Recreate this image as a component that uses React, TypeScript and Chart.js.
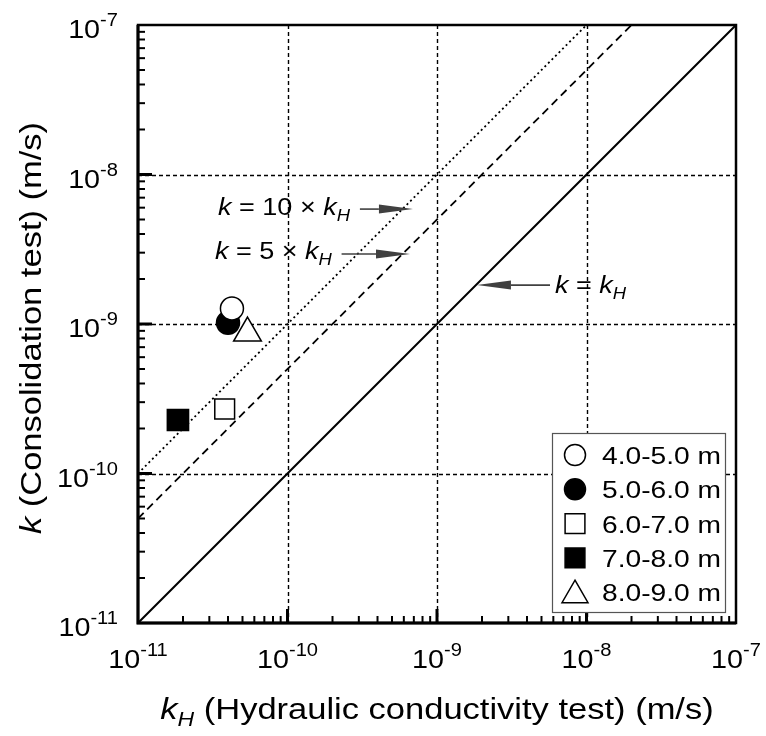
import React, { useEffect, useRef } from 'react';
import { Chart, registerables } from 'chart.js';
Chart.register(...registerables);

// ---------- data ----------
const seriesLabels = ['4.0-5.0 m', '5.0-6.0 m', '6.0-7.0 m', '7.0-8.0 m', '8.0-9.0 m'];
const kHValues = [4.25e-11, 4.0e-11, 3.8e-11, 1.85e-11, 5.4e-11];
const kValues = [1.27e-9, 1.02e-9, 2.7e-10, 2.28e-10, 8.7e-10];
const markerStyles = ['circle', 'circle', 'rect', 'rect', 'triangle'];
const markerFilled = [false, true, false, true, false];
const markerRadius = [11.5, 11.5, 14, 15, 16];

const decadeValues = [1e-11, 1e-10, 1e-9, 1e-8, 1e-7];
const decadeExponents = ['-11', '-10', '-9', '-8', '-7'];
const axisMin = 1e-11;
const axisMax = 1e-7;

const ratioValues = [1, 5, 10];
const ratioDash = [[], [8, 5], [2, 3]];
const ratioWidth = [2, 1.8, 1.8];

// annotations (anchors in data units)
const annotTipX = [6.9e-10, 6.6e-10, 1.85e-9];
const annotTipY = [5.87e-9, 2.94e-9, 1.82e-9];
const annotTailX = [3.05e-10, 2.3e-10, 5.7e-9];
const annotTextX = [3.43e-11, 3.27e-11, 6.15e-9];
const annotTextY = [5.36e-9, 2.72e-9, 1.61e-9];
const annotRatio = ['10', '5', ''];

const S = 1.15; // horizontal text stretch
const FONT = '"Liberation Sans", Arial, sans-serif';

type Part = { t: string; size: number; italic?: boolean; dy?: number };

function partsWidth(ctx: CanvasRenderingContext2D, parts: Part[]) {
  let w = 0;
  for (const p of parts) {
    ctx.font = `${p.italic ? 'italic ' : ''}${p.size}px ${FONT}`;
    w += ctx.measureText(p.t).width * S;
  }
  return w;
}

function drawParts(ctx: CanvasRenderingContext2D, parts: Part[], x: number, y: number, align: 'left' | 'center' | 'right') {
  const w = partsWidth(ctx, parts);
  let cx = align === 'center' ? x - w / 2 : align === 'right' ? x - w : x;
  ctx.fillStyle = '#000';
  ctx.textAlign = 'left';
  ctx.textBaseline = 'alphabetic';
  for (const p of parts) {
    ctx.font = `${p.italic ? 'italic ' : ''}${p.size}px ${FONT}`;
    const pw = ctx.measureText(p.t).width * S;
    ctx.save();
    ctx.translate(cx, y + (p.dy || 0));
    ctx.scale(S, 1);
    ctx.fillText(p.t, 0, 0);
    ctx.restore();
    cx += pw;
  }
  return w;
}

function drawMarker(ctx: CanvasRenderingContext2D, style: string, filled: boolean, r: number, x: number, y: number) {
  ctx.save();
  ctx.beginPath();
  if (style === 'circle') {
    ctx.arc(x, y, r, 0, Math.PI * 2);
  } else if (style === 'rect') {
    const s = r * Math.SQRT1_2;
    ctx.rect(x - s, y - s, 2 * s, 2 * s);
  } else {
    ctx.moveTo(x, y - r);
    ctx.lineTo(x + r * Math.sin((2 * Math.PI) / 3), y - r * Math.cos((2 * Math.PI) / 3));
    ctx.lineTo(x - r * Math.sin((2 * Math.PI) / 3), y - r * Math.cos((2 * Math.PI) / 3));
    ctx.closePath();
  }
  ctx.fillStyle = filled ? '#000' : '#fff';
  ctx.fill();
  ctx.lineWidth = 1.5;
  ctx.strokeStyle = '#000';
  ctx.stroke();
  ctx.restore();
}

function minorValues() {
  const out: number[] = [];
  for (let d = 0; d < decadeValues.length - 1; d++) {
    for (let m = 2; m <= 9; m++) out.push(decadeValues[d] * m);
  }
  return out;
}

const decorPlugin = {
  id: 'decor',
  beforeDraw(chart: any) {
    const ctx = chart.ctx as CanvasRenderingContext2D;
    ctx.save();
    ctx.fillStyle = '#fff';
    ctx.fillRect(0, 0, chart.width, chart.height);
    ctx.restore();
  },
  beforeDatasetsDraw(chart: any) {
    const ctx = chart.ctx as CanvasRenderingContext2D;
    const { left, right, top, bottom } = chart.chartArea;
    const xs = chart.scales.x;
    const ys = chart.scales.y;
    ctx.save();
    ctx.strokeStyle = '#000';
    ctx.lineWidth = 1.4;
    ctx.setLineDash([4, 3]);
    for (let i = 1; i < decadeValues.length - 1; i++) {
      const px = Math.round(xs.getPixelForValue(decadeValues[i])) + 0.5;
      ctx.beginPath();
      ctx.moveTo(px, top);
      ctx.lineTo(px, bottom);
      ctx.stroke();
      const py = Math.round(ys.getPixelForValue(decadeValues[i])) + 0.5;
      ctx.beginPath();
      ctx.moveTo(left, py);
      ctx.lineTo(right, py);
      ctx.stroke();
    }
    ctx.restore();
  },
  afterDraw(chart: any) {
    const ctx = chart.ctx as CanvasRenderingContext2D;
    const { left, right, top, bottom } = chart.chartArea;
    const xs = chart.scales.x;
    const ys = chart.scales.y;

    // frame
    ctx.save();
    ctx.strokeStyle = '#000';
    ctx.lineWidth = 2.5;
    ctx.strokeRect(left, top, right - left, bottom - top);
    ctx.lineWidth = 3;
    ctx.beginPath();
    ctx.moveTo(left, top);
    ctx.lineTo(left, bottom);
    ctx.lineTo(right, bottom);
    ctx.stroke();

    // ticks
    ctx.lineWidth = 3;
    for (let i = 1; i < decadeValues.length - 1; i++) {
      const px = xs.getPixelForValue(decadeValues[i]);
      ctx.beginPath();
      ctx.moveTo(px, bottom);
      ctx.lineTo(px, bottom - 14);
      ctx.stroke();
      const py = ys.getPixelForValue(decadeValues[i]);
      ctx.beginPath();
      ctx.moveTo(left, py);
      ctx.lineTo(left + 14, py);
      ctx.stroke();
    }
    ctx.lineWidth = 2;
    for (const v of minorValues()) {
      const px = xs.getPixelForValue(v);
      ctx.beginPath();
      ctx.moveTo(px, bottom);
      ctx.lineTo(px, bottom - 7);
      ctx.stroke();
      const py = ys.getPixelForValue(v);
      ctx.beginPath();
      ctx.moveTo(left, py);
      ctx.lineTo(left + 7, py);
      ctx.stroke();
    }
    ctx.restore();

    // tick labels
    for (let i = 0; i < decadeValues.length; i++) {
      const parts: Part[] = [
        { t: '10', size: 25 },
        { t: decadeExponents[i], size: 17.5, dy: -12 },
      ];
      const px = xs.getPixelForValue(decadeValues[i]);
      drawParts(ctx, parts, px, bottom + 45, 'center');
      const py = ys.getPixelForValue(decadeValues[i]);
      drawParts(ctx, parts, left - 20, py + 13, 'right');
    }

    // axis titles
    const xTitle: Part[] = [
      { t: 'k', size: 30, italic: true },
      { t: 'H', size: 20, italic: true, dy: 7 },
      { t: ' (Hydraulic conductivity test) (m/s)', size: 30 },
    ];
    drawParts(ctx, xTitle, (left + right) / 2, 719, 'center');
    const yTitle: Part[] = [
      { t: 'k', size: 30, italic: true },
      { t: ' (Consolidation test) (m/s)', size: 30 },
    ];
    ctx.save();
    ctx.translate(31, (top + bottom) / 2 + 4);
    ctx.rotate(-Math.PI / 2);
    drawParts(ctx, yTitle, 0, 10, 'center');
    ctx.restore();

    // annotations
    for (let i = 0; i < annotTipX.length; i++) {
      const tx = xs.getPixelForValue(annotTipX[i]);
      const ty = ys.getPixelForValue(annotTipY[i]);
      const sx = xs.getPixelForValue(annotTailX[i]);
      const dir = tx > sx ? 1 : -1;
      const headLen = 34;
      ctx.save();
      ctx.strokeStyle = '#404040';
      ctx.fillStyle = '#404040';
      ctx.lineWidth = 1.6;
      ctx.beginPath();
      ctx.moveTo(sx, ty);
      ctx.lineTo(tx - dir * headLen, ty);
      ctx.stroke();
      ctx.beginPath();
      ctx.moveTo(tx, ty);
      ctx.lineTo(tx - dir * headLen, ty - 4.5);
      ctx.lineTo(tx - dir * headLen, ty + 4.5);
      ctx.closePath();
      ctx.fill();
      ctx.restore();

      const fs = 23.5;
      const parts: Part[] = annotRatio[i]
        ? [
            { t: 'k', size: fs, italic: true },
            { t: ` = ${annotRatio[i]} \u00d7 `, size: fs },
            { t: 'k', size: fs, italic: true },
            { t: 'H', size: 16, italic: true, dy: 6 },
          ]
        : [
            { t: 'k', size: fs, italic: true },
            { t: ' = ', size: fs },
            { t: 'k', size: fs, italic: true },
            { t: 'H', size: 16, italic: true, dy: 6 },
          ];
      drawParts(
        ctx,
        parts,
        xs.getPixelForValue(annotTextX[i]),
        ys.getPixelForValue(annotTextY[i]),
        'left'
      );
    }

    // legend
    const lx = 552, ly = 433, lw = 173, lh = 179;
    ctx.save();
    ctx.fillStyle = '#fff';
    ctx.fillRect(lx, ly, lw, lh);
    ctx.strokeStyle = '#555';
    ctx.lineWidth = 1.2;
    ctx.strokeRect(lx + 0.5, ly + 0.5, lw, lh);
    ctx.restore();
    for (let i = 0; i < seriesLabels.length; i++) {
      const cy = ly + 22 + i * 34.3;
      const r = markerStyles[i] === 'triangle' ? 15 : markerStyles[i] === 'rect' ? 14 : 10.5;
      drawMarker(ctx, markerStyles[i], markerFilled[i], r, lx + 23, cy + (markerStyles[i] === 'triangle' ? 3 : 0));
      drawParts(ctx, [{ t: seriesLabels[i], size: 24.5 }], lx + 50, cy + 9, 'left');
    }
  },
};

export default function App() {
  const ref = useRef<HTMLCanvasElement>(null);
  useEffect(() => {
    if (!ref.current) return;
    const datasets: any[] = [];
    for (let i = 0; i < seriesLabels.length; i++) {
      datasets.push({
        type: 'scatter',
        label: seriesLabels[i],
        data: [{ x: kHValues[i], y: kValues[i] }],
        pointStyle: markerStyles[i],
        pointRadius: markerRadius[i],
        pointHoverRadius: markerRadius[i],
        pointBackgroundColor: markerFilled[i] ? '#000' : '#fff',
        pointBorderColor: '#000',
        pointBorderWidth: 1.5,
        order: 0,
      });
    }
    for (let j = 0; j < ratioValues.length; j++) {
      const endX = Math.min(axisMax, axisMax / ratioValues[j]);
      datasets.push({
        type: 'scatter',
        label: `ratio ${ratioValues[j]}`,
        data: [
          { x: axisMin, y: axisMin * ratioValues[j] },
          { x: endX, y: endX * ratioValues[j] },
        ],
        showLine: true,
        pointRadius: 0,
        borderColor: '#000',
        borderWidth: ratioWidth[j],
        borderDash: ratioDash[j],
        order: 1,
      });
    }
    const chart = new Chart(ref.current, {
      type: 'scatter',
      data: { datasets },
      options: {
        animation: false,
        responsive: false,
        devicePixelRatio: 1,
        layout: { padding: { left: 138, top: 25, right: 30, bottom: 113 } },
        plugins: { legend: { display: false }, tooltip: { enabled: false } },
        scales: {
          x: { type: 'logarithmic', min: axisMin, max: axisMax, display: false },
          y: { type: 'logarithmic', min: axisMin, max: axisMax, display: false },
        },
      },
      plugins: [decorPlugin],
    } as any);
    return () => chart.destroy();
  }, []);
  return (
    <div style={{ position: 'absolute', left: 0, top: 0, width: 766, height: 736 }}>
      <canvas ref={ref} width={766} height={736} style={{ width: 766, height: 736 }} />
    </div>
  );
}
